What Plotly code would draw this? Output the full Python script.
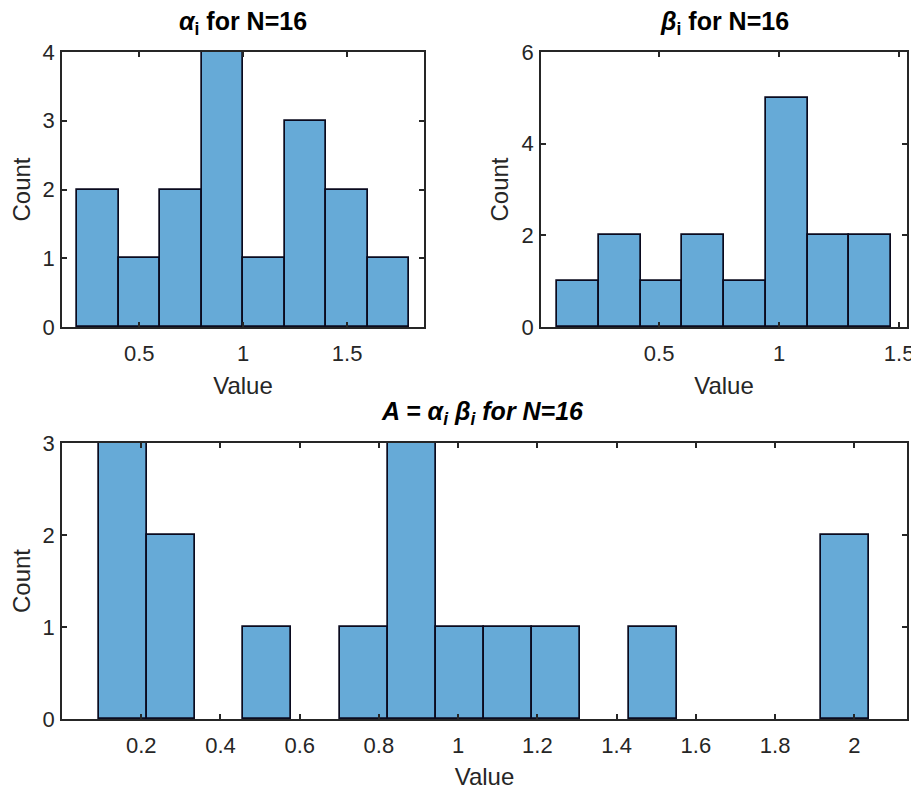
import plotly.graph_objects as go

# ---- data ----
alpha_edge0, alpha_width = 0.2, 0.2
alpha_counts = [2, 1, 2, 4, 1, 3, 2, 1]

beta_edge0, beta_width = 0.0763, 0.1737
beta_counts = [1, 2, 1, 2, 1, 5, 2, 2]

A_edge0, A_width = 0.0927, 0.1216
A_counts = [3, 2, 0, 1, 0, 1, 3, 1, 1, 1, 0, 1, 0, 0, 0, 2]

alpha_xticks = [0.5, 1, 1.5]
beta_xticks = [0.5, 1, 1.5]
A_xticks = [0.2, 0.4, 0.6, 0.8, 1, 1.2, 1.4, 1.6, 1.8, 2]
alpha_yticks = [0, 1, 2, 3, 4]
beta_yticks = [0, 2, 4, 6]
A_yticks = [0, 1, 2, 3]

titles = ["<b><i>α</i><sub>i</sub> for N=16</b>",
          "<b><i>β</i><sub>i</sub> for N=16</b>",
          "<b><i>A = α<sub>i</sub> β<sub>i</sub> for N=16</i></b>"]

# the page body adds an 8px margin, so the figure is drawn 8px in from the corner
OFF = 8
W, H = 919 - OFF, 790 - OFF
FILL = "rgba(0,114,189,0.6)"
AX = "#262626"
FONT = "Liberation Sans, Arial, sans-serif"


def bins(e0, w, counts):
    # skip empty bins (MATLAB draws nothing for them)
    xs, ys = [], []
    for i, c in enumerate(counts):
        if c > 0:
            xs.append(e0 + w * (i + 0.5))
            ys.append(c)
    return xs, ys


fig = go.Figure()
for (e0, w, c), xa, ya in [((alpha_edge0, alpha_width, alpha_counts), "x", "y"),
                           ((beta_edge0, beta_width, beta_counts), "x2", "y2"),
                           ((A_edge0, A_width, A_counts), "x3", "y3")]:
    xs, ys = bins(e0, w, c)
    fig.add_trace(go.Bar(x=xs, y=ys, width=[w] * len(xs),
                         marker=dict(color=FILL, line=dict(color="#0a0a1e", width=1.7)),
                         xaxis=xa, yaxis=ya, showlegend=False))


def px_x(a, b):
    return [(a - OFF) / W, (b - OFF) / W]


def px_y(top, bot):
    return [(H - (bot - OFF)) / H, (H - (top - OFF)) / H]


common = dict(showline=True, linecolor=AX, linewidth=1.5, mirror="ticks",
              ticks="inside", ticklen=5, tickcolor=AX, tickwidth=1.5,
              showgrid=False, zeroline=False, layer="above traces",
              tickfont=dict(family=FONT, size=22, color=AX),
              ticklabeloverflow="allow",
              automargin=False, fixedrange=True)
xcommon = dict(ticklabelstandoff=6, **common)
ycommon = dict(ticklabelstandoff=1, **common)
xtitle = dict(text="Value", font=dict(family=FONT, size=24, color=AX), standoff=12)
ytitle = dict(text="Count", font=dict(family=FONT, size=24, color=AX), standoff=6)

fig.update_layout(
    width=W, height=H, margin=dict(l=0, r=0, t=0, b=0),
    paper_bgcolor="white", plot_bgcolor="white", bargap=0,
    xaxis=dict(domain=px_x(62, 424), range=[0.128, 1.87], tickvals=alpha_xticks,
               ticktext=[str(v) for v in alpha_xticks], anchor="y", title=xtitle, **xcommon),
    yaxis=dict(domain=px_y(52, 327), range=[0, 4], tickvals=alpha_yticks, anchor="x",
               title=ytitle, **ycommon),
    xaxis2=dict(domain=px_x(541, 907), range=[0.008, 1.533], tickvals=beta_xticks,
                ticktext=[str(v) for v in beta_xticks], anchor="y2", title=xtitle, **xcommon),
    yaxis2=dict(domain=px_y(52, 327), range=[0, 6], tickvals=beta_yticks, anchor="x2",
                title=ytitle, **ycommon),
    xaxis3=dict(domain=px_x(62, 907), range=[0, 2.133], tickvals=A_xticks,
                ticktext=[str(v) for v in A_xticks], anchor="y3", title=xtitle, **xcommon),
    yaxis3=dict(domain=px_y(443, 719), range=[0, 3], tickvals=A_yticks, anchor="x3",
                title=ytitle, **ycommon),
)

for txt, cx, cy in [(titles[0], 243, 23), (titles[1], 724, 23), (titles[2], 482, 413)]:
    fig.add_annotation(text=txt, x=(cx - OFF) / W, y=(H - (cy - OFF)) / H,
                       xref="paper", yref="paper",
                       xanchor="center", yanchor="middle", showarrow=False,
                       font=dict(family=FONT, size=25, color="black"))

fig.write_html("out.html")
